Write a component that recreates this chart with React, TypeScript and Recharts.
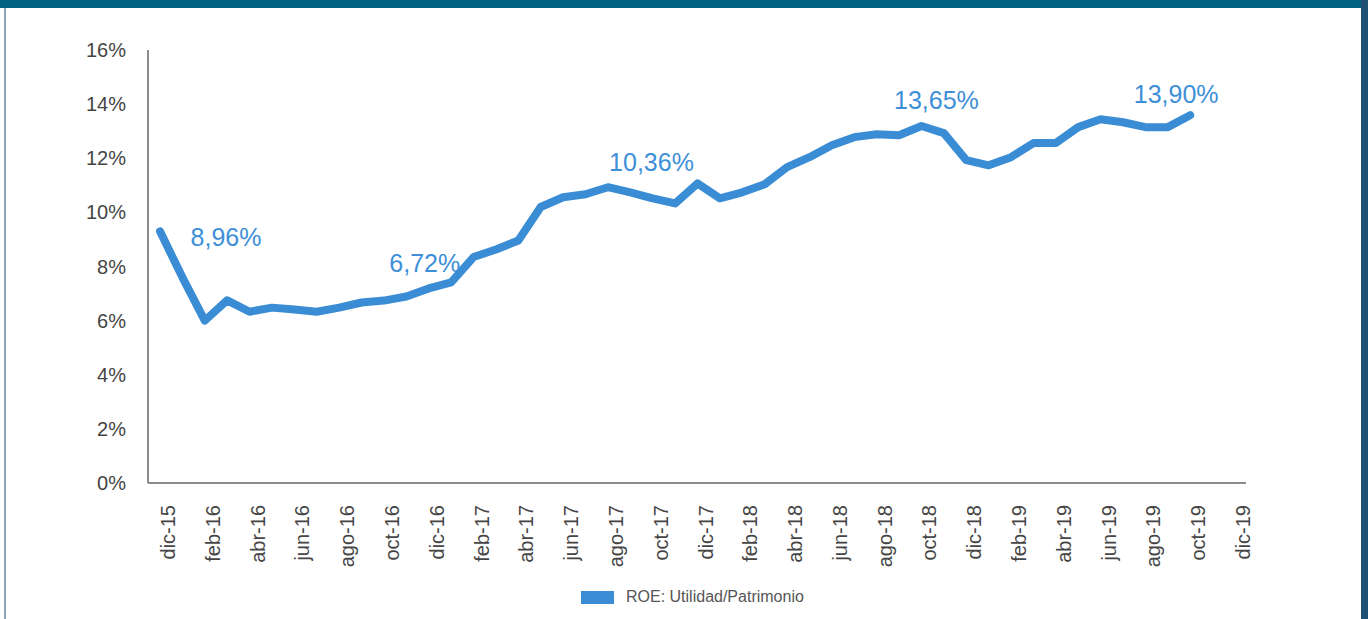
import React from "react";
import { LineChart, Line, XAxis, YAxis, Legend, ReferenceDot } from "recharts";

const months = [
  "dic-15",
  "ene-16", "feb-16", "mar-16", "abr-16", "may-16", "jun-16",
  "jul-16", "ago-16", "sep-16", "oct-16", "nov-16", "dic-16",
  "ene-17", "feb-17", "mar-17", "abr-17", "may-17", "jun-17",
  "jul-17", "ago-17", "sep-17", "oct-17", "nov-17", "dic-17",
  "ene-18", "feb-18", "mar-18", "abr-18", "may-18", "jun-18",
  "jul-18", "ago-18", "sep-18", "oct-18", "nov-18", "dic-18",
  "ene-19", "feb-19", "mar-19", "abr-19", "may-19", "jun-19",
  "jul-19", "ago-19", "sep-19", "oct-19", "nov-19", "dic-19",
];

// ROE in %, dic-15 .. oct-19
const roe = [
  9.3, 7.6, 6.0, 6.75, 6.33, 6.48, 6.41, 6.33, 6.48, 6.67, 6.74, 6.89, 7.19,
  7.41, 8.35, 8.63, 8.96, 10.2, 10.56, 10.67, 10.93, 10.74, 10.52, 10.33, 11.07,
  10.52, 10.74, 11.04, 11.67, 12.04, 12.48, 12.78, 12.89, 12.85, 13.19, 12.93,
  11.93, 11.74, 12.04, 12.56, 12.56, 13.15, 13.44, 13.33, 13.15, 13.15, 13.59,
];

const yTicks = [0, 2, 4, 6, 8, 10, 12, 14, 16];

const noteMonths = ["dic-15", "dic-16", "dic-17", "oct-18", "oct-19"];
const noteTexts = ["8,96%", "6,72%", "10,36%", "13,65%", "13,90%"];

// where each note text sits relative to its point
const noteOffsets = [
  { dx: 66, dy: 6 },
  { dx: -4, dy: -25 },
  { dx: -46, dy: -21 },
  { dx: 15, dy: -26 },
  { dx: -14, dy: -21 },
];

const data = months.map((m, i) => ({
  month: m,
  roe: i < roe.length ? roe[i] : null,
}));

const FONT = "'Liberation Sans', Arial, Helvetica, sans-serif";
const BLUE = "#3a8dd4";

const XTick = (props: any) => {
  const { x, y, payload } = props;
  return (
    <text
      transform={`translate(${x + 8},${y + 22}) rotate(-90)`}
      textAnchor="end"
      dominantBaseline="central"
      fontSize={20}
      fontFamily={FONT}
      fill="#454545"
    >
      {payload.value}
    </text>
  );
};

const renderLegend = (props: any) => {
  const item = props.payload && props.payload[0];
  return (
    <div style={{ display: "flex", alignItems: "center" }}>
      <div style={{ width: 33, height: 13, background: BLUE }} />
      <span
        style={{
          marginLeft: 12,
          fontFamily: FONT,
          fontSize: 16,
          color: "#555",
        }}
      >
        {item ? item.value : ""}
      </span>
    </div>
  );
};

export default function App() {
  return (
    <div
      style={{
        position: "absolute",
        left: 0,
        top: 0,
        width: 1368,
        height: 619,
        background: "#fff",
        overflow: "hidden",
      }}
    >
      <div style={{ position: "absolute", left: 0, top: 0, width: 1368, height: 8, background: "#00627f" }} />
      <div style={{ position: "absolute", left: 4, top: 8, width: 2, height: 611, background: "#8fa3b8" }} />
      <div style={{ position: "absolute", left: 1361, top: 0, width: 7, height: 619, background: "#1f4f72" }} />

      <LineChart
        width={1368}
        height={619}
        data={data}
        margin={{ top: 50, right: 122, bottom: 46, left: 0 }}
      >
        <XAxis
          dataKey="month"
          interval={1}
          padding={{ left: 12, right: 11 }}
          tick={<XTick />}
          tickLine={false}
          tickSize={0}
          tickMargin={0}
          height={90}
          axisLine={{ stroke: "#8c8c8c", strokeWidth: 2 }}
        />
        <YAxis
          domain={[0, 16]}
          ticks={yTicks}
          width={148}
          tickFormatter={(v: number) => `${v}%`}
          tick={{ fontSize: 20, fill: "#454545", fontFamily: FONT }}
          tickLine={false}
          tickSize={0}
          tickMargin={22}
          axisLine={{ stroke: "#8c8c8c", strokeWidth: 2 }}
        />
        <Line
          type="linear"
          dataKey="roe"
          name="ROE: Utilidad/Patrimonio"
          stroke={BLUE}
          strokeWidth={8}
          strokeLinecap="round"
          strokeLinejoin="round"
          dot={false}
          activeDot={false}
          isAnimationActive={false}
        />
        {noteMonths.map((m, k) => {
          const idx = months.indexOf(m);
          const off = noteOffsets[k];
          return (
            <ReferenceDot
              key={m}
              x={m}
              y={roe[idx]}
              r={0}
              ifOverflow="visible"
              shape={(p: any) => (
                <text
                  x={p.cx + off.dx}
                  y={p.cy + off.dy}
                  textAnchor="middle"
                  dominantBaseline="central"
                  fontSize={25}
                  fontFamily={FONT}
                  fill="#3d8fd8"
                >
                  {noteTexts[k]}
                </text>
              )}
            />
          );
        })}
        <Legend
          layout="horizontal"
          verticalAlign="middle"
          align="center"
          wrapperStyle={{ left: 581, top: 588, width: 400, height: 26 }}
          content={renderLegend}
        />
      </LineChart>
    </div>
  );
}
